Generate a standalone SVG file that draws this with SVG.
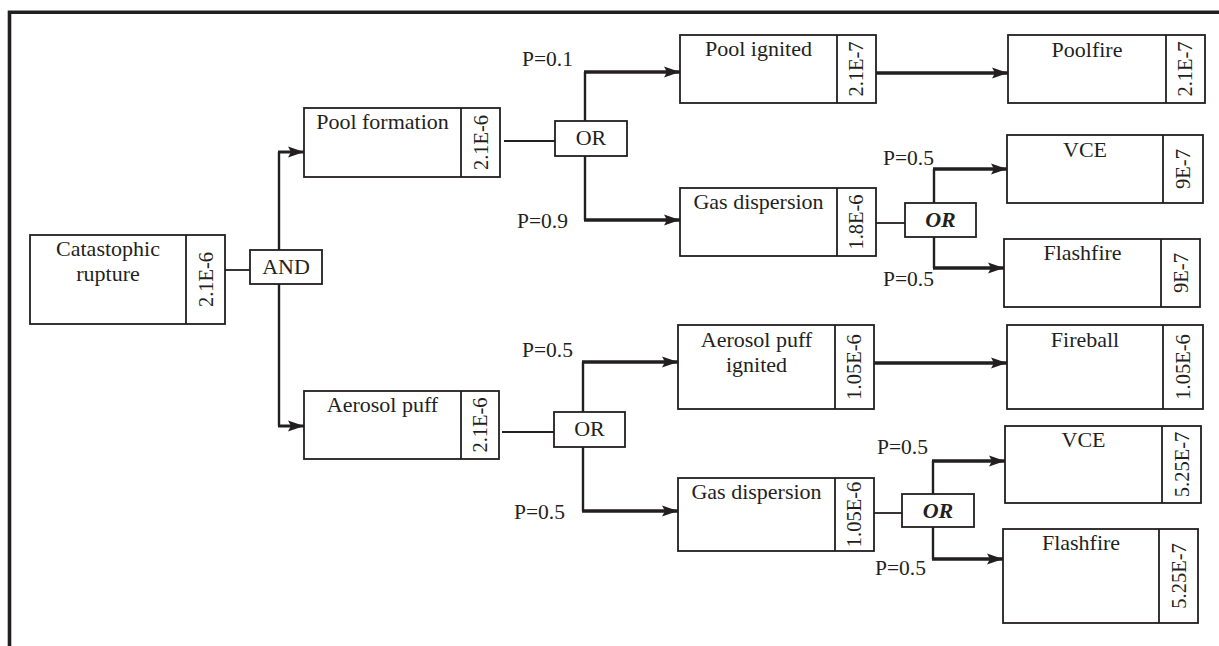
<svg xmlns="http://www.w3.org/2000/svg" width="1219" height="646" viewBox="0 0 1219 646">
<style>
text{font-family:"Liberation Serif","Times New Roman",serif;font-size:22px;fill:#231f20}
.c{text-anchor:middle}
.v{text-anchor:middle;font-size:20.5px}
.p{font-size:21.5px}
.bi{font-weight:bold;font-style:italic}
.box{fill:#fff;stroke:#231f20;stroke-width:1.8}
.div{stroke:#231f20;stroke-width:1.8}
.thin{stroke:#231f20;stroke-width:1.8;fill:none}
.vert{stroke:#231f20;stroke-width:2.4;fill:none}
.thick{stroke:#231f20;stroke-width:3.4;fill:none;marker-end:url(#ah)}
.med{stroke:#231f20;stroke-width:3;fill:none;marker-end:url(#ah)}
</style>
<defs>
<marker id="ah" markerUnits="userSpaceOnUse" markerWidth="17" markerHeight="12" refX="16" refY="6" orient="auto">
<path d="M0,0.5 L16,6 L0,11.5 L3,6 z" fill="#231f20"/>
</marker>
</defs>
<rect width="1219" height="646" fill="#fff"/>
<g id="frame">
<path d="M9.5,646 V12.3 H1219" fill="none" stroke="#231f20" stroke-width="3.6"/>
</g>
<g id="connectors">
<path class="thin" d="M225,270 H250"/>
<path class="vert" d="M279,250 V152 M279,284 V426"/>
<path class="med" d="M278,152 H304"/>
<path class="med" d="M278,426 H304"/>
<path class="thin" d="M504,141 H555"/>
<path class="vert" d="M585,121 V72 M585,156 V220"/>
<path class="thick" d="M584,72 H680"/>
<path class="thick" d="M584,220 H680"/>
<path class="thick" d="M876,73 H1008"/>
<path class="thin" d="M876,223 H905"/>
<path class="vert" d="M934,203 V169 M934,237 V268"/>
<path class="thick" d="M933,169 H1007"/>
<path class="thick" d="M933,268 H1004"/>
<path class="thin" d="M502,432 H554"/>
<path class="vert" d="M583,412 V362 M583,447 V511"/>
<path class="thick" d="M582,362 H678"/>
<path class="thick" d="M582,511 H678"/>
<path class="thick" d="M874,363 H1007"/>
<path class="thin" d="M874,513 H902"/>
<path class="vert" d="M933,494 V461 M933,527 V559"/>
<path class="thick" d="M932,461 H1005"/>
<path class="thick" d="M932,559 H1003"/>
</g>
<g id="labels">
<text class="p" x="522" y="66">P=0.1</text>
<text class="p" x="517" y="228">P=0.9</text>
<text class="p" x="883" y="165">P=0.5</text>
<text class="p" x="883" y="286">P=0.5</text>
<text class="p" x="522" y="357">P=0.5</text>
<text class="p" x="514" y="519">P=0.5</text>
<text class="p" x="877" y="454">P=0.5</text>
<text class="p" x="875" y="575">P=0.5</text>
</g>
<g id="rupture">
<rect class="box" x="30" y="235" width="195" height="89"/>
<line class="div" x1="186" y1="235" x2="186" y2="324"/>
<text class="c" x="108" y="256">Catastophic</text>
<text class="c" x="108" y="281">rupture</text>
<text class="v" transform="translate(212.5,279.5) rotate(-90)">2.1E-6</text>
</g>
<g id="and-gate">
<rect class="box" x="250" y="250" width="72" height="34"/>
<text class="c" x="286" y="274">AND</text>
</g>
<g id="pool-formation">
<rect class="box" x="304" y="108" width="196" height="69"/>
<line class="div" x1="461" y1="108" x2="461" y2="177"/>
<text class="c" x="382.5" y="129">Pool formation</text>
<text class="v" transform="translate(487.5,142.5) rotate(-90)">2.1E-6</text>
</g>
<g id="aerosol-puff">
<rect class="box" x="304" y="391" width="195" height="68"/>
<line class="div" x1="461" y1="391" x2="461" y2="459"/>
<text class="c" x="382.5" y="412">Aerosol puff</text>
<text class="v" transform="translate(487,425) rotate(-90)">2.1E-6</text>
</g>
<g id="or-1">
<rect class="box" x="555" y="121" width="72" height="35"/>
<text class="c" x="591" y="145">OR</text>
</g>
<g id="or-2">
<rect class="box" x="554" y="412" width="71" height="35"/>
<text class="c" x="589.5" y="436">OR</text>
</g>
<g id="pool-ignited">
<rect class="box" x="680" y="35" width="196" height="68"/>
<line class="div" x1="837" y1="35" x2="837" y2="103"/>
<text class="c" x="758.5" y="56">Pool ignited</text>
<text class="v" transform="translate(863,69) rotate(-90)">2.1E-7</text>
</g>
<g id="gas-dispersion-1">
<rect class="box" x="680" y="188" width="196" height="68"/>
<line class="div" x1="837" y1="188" x2="837" y2="256"/>
<text class="c" x="758.5" y="209">Gas dispersion</text>
<text class="v" transform="translate(863,222) rotate(-90)">1.8E-6</text>
</g>
<g id="aerosol-puff-ignited">
<rect class="box" x="678" y="325" width="196" height="84"/>
<line class="div" x1="835" y1="325" x2="835" y2="409"/>
<text class="c" x="756.5" y="347">Aerosol puff</text>
<text class="c" x="756.5" y="372">ignited</text>
<text class="v" transform="translate(861,367) rotate(-90)">1.05E-6</text>
</g>
<g id="gas-dispersion-2">
<rect class="box" x="678" y="478" width="196" height="73"/>
<line class="div" x1="835" y1="478" x2="835" y2="551"/>
<text class="c" x="756.5" y="499">Gas dispersion</text>
<text class="v" transform="translate(861,514.5) rotate(-90)">1.05E-6</text>
</g>
<g id="or-3">
<rect class="box" x="905" y="203" width="71" height="34"/>
<text class="c bi" x="940.5" y="227">OR</text>
</g>
<g id="or-4">
<rect class="box" x="902" y="494" width="72" height="33"/>
<text class="c bi" x="938" y="517.5">OR</text>
</g>
<g id="poolfire">
<rect class="box" x="1008" y="35" width="197" height="68"/>
<line class="div" x1="1166" y1="35" x2="1166" y2="103"/>
<text class="c" x="1087" y="57">Poolfire</text>
<text class="v" transform="translate(1192,69) rotate(-90)">2.1E-7</text>
</g>
<g id="vce-1">
<rect class="box" x="1007" y="135" width="196" height="68"/>
<line class="div" x1="1163" y1="135" x2="1163" y2="203"/>
<text class="c" x="1085" y="157">VCE</text>
<text class="v" transform="translate(1189.5,169) rotate(-90)">9E-7</text>
</g>
<g id="flashfire-1">
<rect class="box" x="1004" y="239" width="196" height="68"/>
<line class="div" x1="1161" y1="239" x2="1161" y2="307"/>
<text class="c" x="1082.5" y="260">Flashfire</text>
<text class="v" transform="translate(1187.5,273) rotate(-90)">9E-7</text>
</g>
<g id="fireball">
<rect class="box" x="1007" y="325" width="196" height="84"/>
<line class="div" x1="1163" y1="325" x2="1163" y2="409"/>
<text class="c" x="1085" y="347">Fireball</text>
<text class="v" transform="translate(1189.5,367) rotate(-90)">1.05E-6</text>
</g>
<g id="vce-2">
<rect class="box" x="1005" y="426" width="196" height="77"/>
<line class="div" x1="1162" y1="426" x2="1162" y2="503"/>
<text class="c" x="1083.5" y="447">VCE</text>
<text class="v" transform="translate(1188.5,464.5) rotate(-90)">5.25E-7</text>
</g>
<g id="flashfire-2">
<rect class="box" x="1003" y="529" width="195" height="94"/>
<line class="div" x1="1159" y1="529" x2="1159" y2="623"/>
<text class="c" x="1081" y="550">Flashfire</text>
<text class="v" transform="translate(1185.5,576) rotate(-90)">5.25E-7</text>
</g>
</svg>
